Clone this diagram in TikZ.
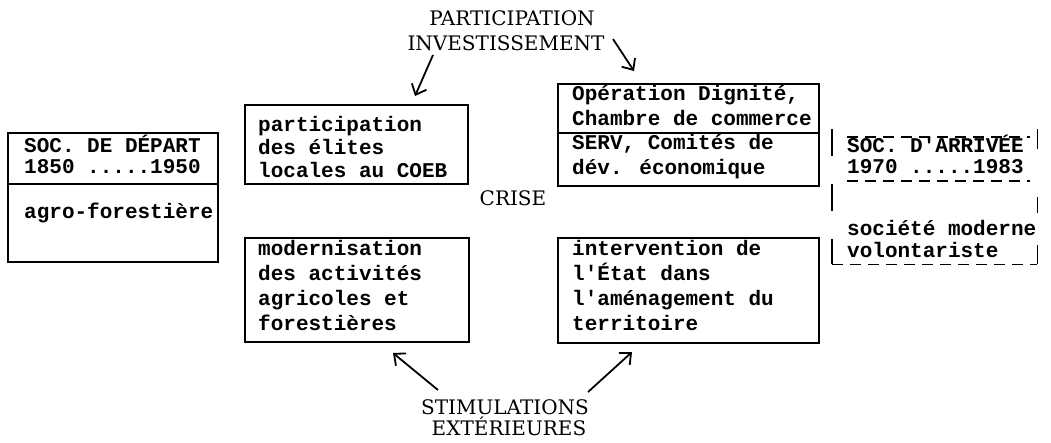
\documentclass[tikz,border=0pt]{standalone}
\usepackage{fontspec}
\newfontfamily\tw{Liberation Mono}
\newfontfamily\sr{DejaVu Serif}
\usetikzlibrary{arrows.meta}
\begin{document}
\lineskiplimit=-100pt
\begin{tikzpicture}[x=1pt,y=-1pt,
  box/.style={draw,line width=1.5pt,inner sep=0pt,anchor=north west},
  ghost/.style={inner sep=0pt,anchor=north west},
  sepline/.style={line width=1.5pt},
  tt/.style={inner sep=0pt,anchor=base west,align=left,font=\tw\bfseries\fontsize{21}{#1}\selectfont},
  tt/.default=21,
  lab/.style={font=\sr\fontsize{20}{24}\selectfont,inner sep=0pt,anchor=base},
  arr/.style={line width=1.8pt,-{Straight Barb[length=9pt,width=16pt,line width=1.8pt]}},
  dsh/.style={line width=1.5pt,dash pattern=on 11pt off 7pt},
  dshl/.style={line width=1.5pt,dash pattern=on 27pt off 28pt},
  dshr/.style={line width=1.5pt,dash pattern=on 20pt off 48pt on 16pt off 32pt on 30pt off 10pt}]
\useasboundingbox (0,0) rectangle (1051,442);

% boxes
\node[box,minimum width=210pt,minimum height=129pt] (b1) at (7,132) {};
\node[box,minimum width=223pt,minimum height=79pt] (b2) at (244,104) {};
\node[box,minimum width=261pt,minimum height=102pt] (b3) at (557,83) {};
\node[box,minimum width=224pt,minimum height=104pt] (b4) at (244,237) {};
\node[box,minimum width=261pt,minimum height=105pt] (b5) at (557,237) {};
\node[ghost,minimum width=205pt,minimum height=135pt] (b6) at (832,129) {};

% separators
\draw[sepline] (b1.west |- 0,184) -- (b1.east |- 0,184);
\draw[sepline] (b3.west |- 0,133) -- (b3.east |- 0,133);

% dashed box
\draw[dshl] (b6.north west) -- (b6.south west);
\draw[dshr] (b6.north east) -- (b6.south east);
\draw[dsh] (b6.south west) -- (b6.south east);
\coordinate (ol1) at (847,137);
\coordinate (ol2) at (1030,137);
\coordinate (ul1) at (847,181);
\coordinate (ul2) at (1030,181);
\draw[dsh] (ol1) -- (ol2);
\draw[dsh] (ul1) -- (ul2);

% texts (anchored at the baseline of the last line)
\node[tt] (t1a) at (24,173) {SOC. DE DÉPART\\1850 .....1950};
\node[tt] (t1b) at (24,218) {agro-forestière};
\node[tt=23] (t2) at (258,177) {participation\\des élites\\locales au COEB};
\node[tt=24.5] (t3) at (572,174) {Opération Dignité,\\Chambre de commerce\\SERV, Comités de\\dév. économique};
\node[tt=25] (t4) at (258,330) {modernisation\\des activités\\agricoles et\\forestières};
\node[tt=25] (t5) at (572,330) {intervention de\\l'État dans\\l'aménagement du\\territoire};
\node[tt] (t6a) at (847,173) {SOC. D'ARRIVÉE\\1970 .....1983};
\node[tt=22] (t6b) at (847,257) {société moderne\\volontariste};

% labels
\node[lab] (pa) at (512,25) {PARTICIPATION};
\node[lab] (inv) at (506,50) {INVESTISSEMENT};
\node[lab] (crise) at (513,205) {CRISE};
\node[lab] (sti) at (505,414) {STIMULATIONS};
\node[lab] (ext) at (509,435) {EXTÉRIEURES};

% arrows
\coordinate (a1s) at (433,55);
\coordinate (a1e) at (415,96);
\coordinate (a2s) at (613,39);
\coordinate (a2e) at (634,71);
\coordinate (a3s) at (438,390);
\coordinate (a3e) at (393,353);
\coordinate (a4s) at (588,392);
\coordinate (a4e) at (632,352);
\draw[arr] (a1s) -- (a1e);
\draw[arr] (a2s) -- (a2e);
\draw[arr] (a3s) -- (a3e);
\draw[arr] (a4s) -- (a4e);
\end{tikzpicture}
\end{document}
